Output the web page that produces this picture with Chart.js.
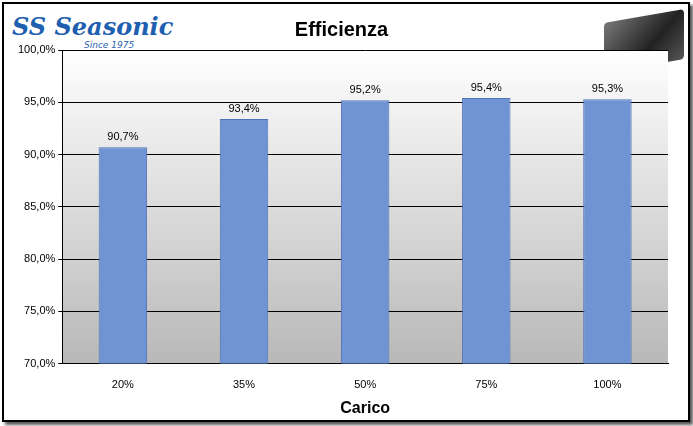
<!DOCTYPE html>
<html><head><meta charset="utf-8">
<script src="https://cdn.jsdelivr.net/npm/chart.js@4/dist/chart.umd.min.js"></script>
<style>
body{margin:0;background:#fff;}
#wrap{position:absolute;left:2px;top:2px;width:684px;height:416px;border:2px solid #000;box-shadow:3px 3px 3px #555;background:#fff;}
#logo{position:absolute;left:8px;top:8px;font:italic bold 24px "DejaVu Serif";color:#1f5fb0;}
#since{position:absolute;left:80px;top:36px;font:italic 9px "DejaVu Sans";color:#1f5fb0;}
#psu{position:absolute;left:600px;top:12px;width:80px;height:50px;background:linear-gradient(135deg,#777,#222 60%,#555);border-radius:4px;transform:skewY(-10deg);}
canvas{position:absolute;left:0;top:0;}
</style></head><body>
<div id="wrap">
<div id="logo">SS Seasonic</div><div id="since">Since 1975</div>
<div id="psu"></div>
<canvas id="c" width="684" height="416"></canvas>
</div>
<script>
const categories = ["20%", "35%", "50%", "75%", "100%"];
const efficiency = [90.7, 93.4, 95.2, 95.4, 95.3];
const fmt = v => v.toFixed(1).replace(".", ",") + "%";

const plotBg = {
  id: "plotBg",
  beforeDraw(chart) {
    const {ctx, chartArea: a} = chart;
    const g = ctx.createLinearGradient(0, a.top, 0, a.bottom);
    g.addColorStop(0, "#ffffff"); g.addColorStop(1, "#b8b8b8");
    ctx.save(); ctx.fillStyle = g; ctx.fillRect(a.left, a.top, a.right - a.left, a.bottom - a.top); ctx.restore();
  }
};
const labels = {
  id: "labels",
  afterDatasetsDraw(chart) {
    const ctx = chart.ctx;
    ctx.save(); ctx.font = "11px Arial"; ctx.fillStyle = "#000"; ctx.textAlign = "center";
    chart.getDatasetMeta(0).data.forEach((b, i) => ctx.fillText(fmt(efficiency[i]), b.x, b.y - 7));
    ctx.restore();
  }
};

new Chart(document.getElementById("c"), {
  type: "bar",
  data: {
    labels: categories,
    datasets: [{
      data: efficiency,
      backgroundColor: c => {
        const el = c.element;
        if (!el || !el.width) return "#6f93d3";
        const g = c.chart.ctx.createLinearGradient(el.x - el.width / 2, 0, el.x + el.width / 2, 0);
        g.addColorStop(0, "#5f84c6"); g.addColorStop(0.5, "#7b9dd9"); g.addColorStop(1, "#5f84c6");
        return g;
      },
      borderColor: "#4f74b8",
      borderWidth: 1,
      barPercentage: 0.4,
      categoryPercentage: 1
    }]
  },
  options: {
    responsive: false,
    animation: false,
    layout: {padding: {top: 0, right: 20, left: 11, bottom: 0}},
    plugins: {
      legend: {display: false},
      tooltip: {enabled: false},
      title: {display: true, text: "Efficienza", font: {family: "Arial", size: 20, weight: "bold"}, color: "#000", padding: {top: 14, bottom: 8}}
    },
    scales: {
      y: {
        min: 70, max: 100,
        ticks: {stepSize: 5, callback: v => fmt(v), font: {family: "Arial", size: 11}, color: "#000"},
        grid: {color: "#000", drawTicks: true, tickLength: 4},
        border: {color: "#000"}
      },
      x: {
        ticks: {font: {family: "Arial", size: 11}, color: "#000", padding: 7},
        grid: {display: false},
        border: {color: "#000"},
        title: {display: true, text: "Carico", font: {family: "Arial", size: 16, weight: "bold"}, color: "#000", padding: {top: 0, bottom: 2}}
      }
    }
  },
  plugins: [plotBg, labels]
});
</script>
</body></html>
